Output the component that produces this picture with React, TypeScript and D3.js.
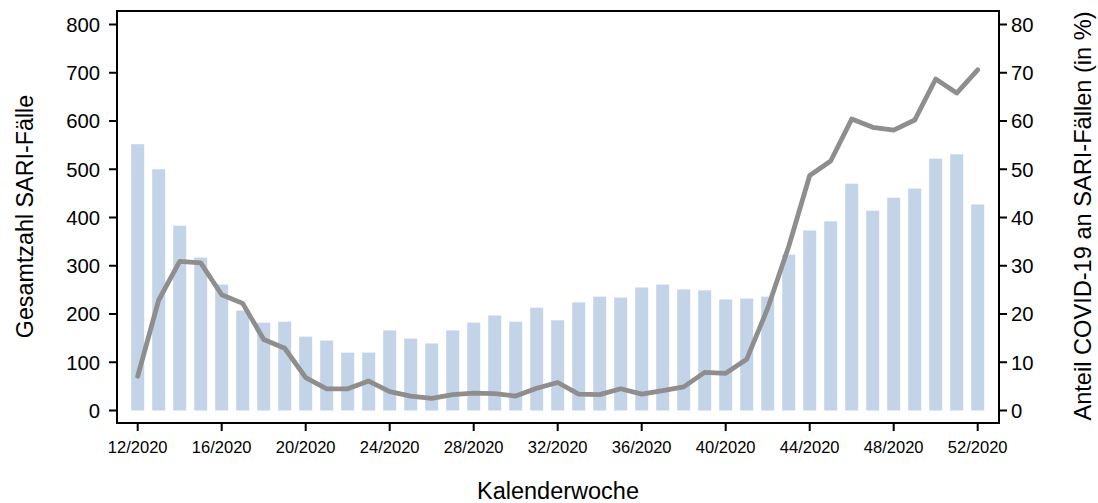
import React from "react";
import * as d3 from "d3";

// Calendar weeks 12/2020 – 52/2020
const weeks: number[] = [
  12, 13, 14, 15, 16, 17, 18, 19, 20, 21, 22, 23, 24, 25, 26, 27, 28, 29, 30, 31, 32,
  33, 34, 35, 36, 37, 38, 39, 40, 41, 42, 43, 44, 45, 46, 47, 48, 49, 50, 51, 52,
];

// Total SARI cases per week (bars, left axis)
const sariCases: number[] = [
  552, 500, 383, 317, 261, 207, 182, 184, 153, 145, 120, 120, 166, 149, 139, 166, 182,
  197, 184, 213, 187, 224, 236, 234, 255, 261, 251, 249, 230, 232, 236, 323, 373, 392,
  470, 414, 441, 460, 522, 531, 427,
];

// Share of COVID-19 among SARI cases in % (line, right axis)
const covidShare: number[] = [
  7.1, 22.9, 30.9, 30.6, 24.0, 22.2, 14.7, 12.9, 6.8, 4.5, 4.5, 6.1, 3.9, 3.0, 2.5, 3.3,
  3.6, 3.5, 3.0, 4.6, 5.8, 3.4, 3.3, 4.5, 3.4, 4.1, 4.9, 7.9, 7.7, 10.6, 21.2, 34.0, 48.7,
  51.7, 60.4, 58.7, 58.1, 60.2, 68.7, 65.8, 70.6,
];

const tickWeeks: number[] = [12, 16, 20, 24, 28, 32, 36, 40, 44, 48, 52];
const leftTicks: number[] = [0, 100, 200, 300, 400, 500, 600, 700, 800];
const rightTicks: number[] = [0, 10, 20, 30, 40, 50, 60, 70, 80];

const W = 1098;
const H = 503;
const frame = { left: 117, right: 999, top: 11, bottom: 423 };
const FONT = "'Liberation Sans', Arial, sans-serif";

export default function App() {
  const x = d3.scaleLinear().domain([12, 52]).range([137.7, 977.7]);
  const yLeft = d3.scaleLinear().domain([0, 800]).range([410.5, 24.5]);
  const yRight = d3.scaleLinear().domain([0, 80]).range([410.5, 24.5]);
  const barW = 13;

  const line = d3
    .line<number>()
    .x((_, i) => x(weeks[i]))
    .y((d) => yRight(d));

  return (
    <svg
      width={W}
      height={H}
      style={{ position: "absolute", left: 0, top: 0, background: "#fff" }}
      fontFamily={FONT}
    >
      {/* bars */}
      <g>
        {sariCases.map((v, i) => (
          <rect
            key={i}
            x={x(weeks[i]) - barW / 2}
            y={yLeft(v)}
            width={barW}
            height={yLeft(0) - yLeft(v)}
            fill="#c3d4e8"
          />
        ))}
      </g>

      {/* COVID-19 share line */}
      <path
        d={line(covidShare) ?? ""}
        fill="none"
        stroke="#8e8e8e"
        strokeWidth={4.8}
        strokeLinejoin="round"
        strokeLinecap="round"
      />

      {/* frame */}
      <rect
        x={frame.left}
        y={frame.top}
        width={frame.right - frame.left}
        height={frame.bottom - frame.top}
        fill="none"
        stroke="#000"
        strokeWidth={2}
      />

      {/* left axis */}
      <g>
        {leftTicks.map((t) => (
          <g key={t}>
            <line x1={frame.left - 8} x2={frame.left} y1={yLeft(t)} y2={yLeft(t)} stroke="#000" strokeWidth={2} />
            <text x={frame.left - 17} y={yLeft(t)} dy="0.36em" textAnchor="end" fontSize={20.3}>
              {t}
            </text>
          </g>
        ))}
      </g>

      {/* right axis */}
      <g>
        {rightTicks.map((t) => (
          <g key={t}>
            <line x1={frame.right} x2={frame.right + 8} y1={yRight(t)} y2={yRight(t)} stroke="#000" strokeWidth={2} />
            <text x={frame.right + 12} y={yRight(t)} dy="0.36em" textAnchor="start" fontSize={20.3}>
              {t}
            </text>
          </g>
        ))}
      </g>

      {/* bottom axis */}
      <g>
        {tickWeeks.map((w) => (
          <g key={w}>
            <line x1={x(w)} x2={x(w)} y1={frame.bottom} y2={frame.bottom + 8} stroke="#000" strokeWidth={2} />
            <text x={x(w)} y={452.5} textAnchor="middle" fontSize={16.5}>
              {`${w}/2020`}
            </text>
          </g>
        ))}
      </g>

      {/* axis titles */}
      <text x={(frame.left + frame.right) / 2} y={499} textAnchor="middle" fontSize={23.5}>
        Kalenderwoche
      </text>
      <text transform="translate(33,216.5) rotate(-90)" textAnchor="middle" fontSize={23.3}>
        Gesamtzahl SARI-Fälle
      </text>
      <text transform="translate(1091,216) rotate(-90)" textAnchor="middle" fontSize={23.6}>
        Anteil COVID-19 an SARI-Fällen (in %)
      </text>
    </svg>
  );
}
